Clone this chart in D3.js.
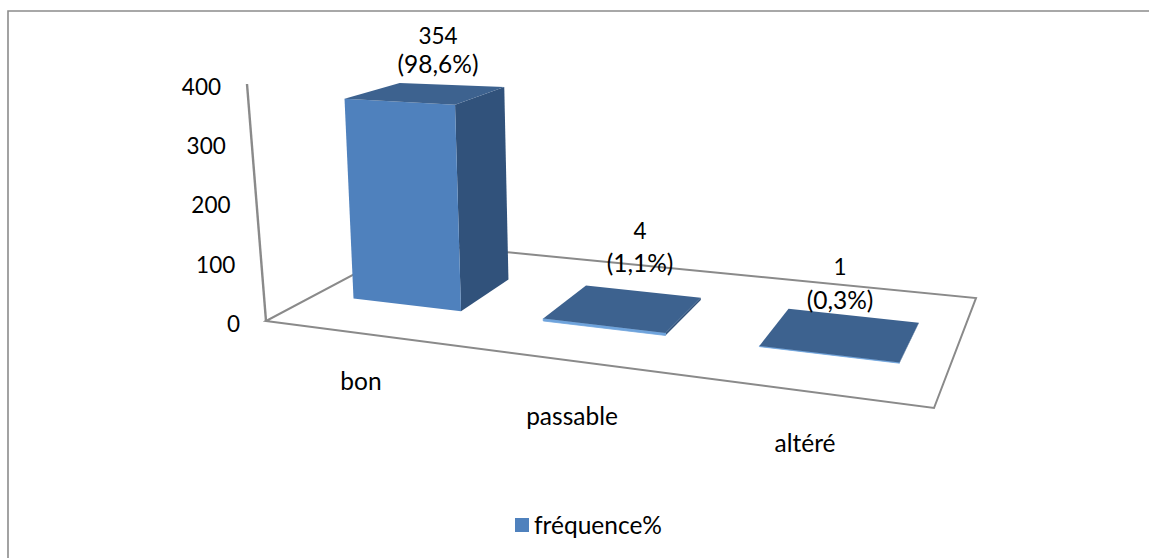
<!DOCTYPE html>
<html><head><meta charset="utf-8">
<script src="https://cdn.jsdelivr.net/npm/d3@7"></script>
<style>html,body{margin:0;padding:0;background:#fff}svg{display:block}text{font-family:Lato,"Open Sans",sans-serif;fill:#000}</style>
</head><body><svg id="c" width="1149" height="558"></svg>
<script>
const categories = ["bon","passable","altéré"];
const values = [354,4,1];
const percents = ["(98,6%)","(1,1%)","(0,3%)"];
const yTicks = [0,100,200,300,400];
const seriesName = "fréquence%";

const W=1149,H=558;
const svg=d3.select("#c");
const fsNum=22.5, fsTxt=24.5;
// Perspective floor: homography from the unit square
const A=[266,321],F=[934,408],R=[976,298],B=[413,243],T=[247,84];
const V=[655,7000];
function homography(p00,p10,p11,p01){
  const dx1=p10[0]-p11[0],dx2=p01[0]-p11[0],sx=p00[0]-p10[0]+p11[0]-p01[0];
  const dy1=p10[1]-p11[1],dy2=p01[1]-p11[1],sy=p00[1]-p10[1]+p11[1]-p01[1];
  const det=dx1*dy2-dx2*dy1;
  const g=(sx*dy2-dx2*sy)/det,h=(dx1*sy-sx*dy1)/det;
  const a=p10[0]-p00[0]+g*p10[0],b=p01[0]-p00[0]+h*p01[0],c=p00[0];
  const d=p10[1]-p00[1]+g*p10[1],e=p01[1]-p00[1]+h*p01[1],f=p00[1];
  return (u,v)=>{const w=g*u+h*v+1;return [(a*u+b*v+c)/w,(d*u+e*v+f)/w];};
}
const floor=homography(A,F,R,B);
const u=d3.scaleBand().domain(categories).range([0,1.005]).paddingInner(.418).paddingOuter(.209);
const v0=.305,v1=.68;
const zScale=d3.scaleLinear().domain([0,400]).range([0,236]);
function proj(uu,vv,val){
  const p=floor(uu,vv);
  const L=V[1]-p[1];
  const h=zScale(val)*(1-.18*vv+.165*uu)/L;
  return [p[0]+(p[0]-V[0])*h,p[1]+(p[1]-V[1])*h];
}
const axisPt=val=>{const t=val/400;return [A[0]+(T[0]-A[0])*t,A[1]+(T[1]-A[1])*t];};
const line=d3.line();
const poly=pts=>line(pts)+"Z";

// chart frame
svg.append("path").attr("d",line([[8,H],[8,11],[W,11]])).attr("fill","none").attr("stroke","#8c8c8c").attr("stroke-width",1.6);

// walls / floor
const axisCol="#8a8a8a";
svg.append("path").attr("d",poly([A,F,R,B])).attr("fill","none").attr("stroke",axisCol).attr("stroke-width",2);
svg.append("path").attr("d",line([axisPt(0),axisPt(400)])).attr("fill","none").attr("stroke",axisCol).attr("stroke-width",2.4);

// bars
const cols={front:"#4f81bd",side:"#31527b",top:"#3d628f",edge:"#6ea3dc"};
const bars=svg.append("g").selectAll("g").data(categories.map((c,i)=>({c,val:values[i]}))).join("g");
bars.each(function(d){
  const g=d3.select(this),x0=u(d.c),x1=x0+u.bandwidth();
  const big=d.val>50;
  g.append("path").attr("d",poly([proj(x1,v0,0),proj(x1,v1,0),proj(x1,v1,d.val),proj(x1,v0,d.val)])).attr("fill",cols.side);
  g.append("path").attr("d",poly([proj(x0,v0,0),proj(x1,v0,0),proj(x1,v0,d.val),proj(x0,v0,d.val)])).attr("fill",big?cols.front:cols.edge)
    .attr("stroke",big?"none":cols.edge).attr("stroke-width",.8);
  g.append("path").attr("d",poly([proj(x0,v0,d.val),proj(x1,v0,d.val),proj(x1,v1,d.val),proj(x0,v1,d.val)])).attr("fill",cols.top);
});

// y tick labels
const yLabel=d3.scaleLinear().domain([0,400]).range([324,87]);
svg.append("g").selectAll("text").data(yTicks).join("text")
  .attr("x",d=>axisPt(d)[0]-26).attr("y",d=>yLabel(d)).attr("dy",".35em")
  .attr("text-anchor","end").attr("font-size",fsNum).text(d=>d);

// category labels
const catPos=[[361,381],[572,416],[805,443]];
svg.append("g").selectAll("text").data(categories).join("text")
  .attr("x",(d,i)=>catPos[i][0]).attr("y",(d,i)=>catPos[i][1]).attr("dy",".35em")
  .attr("text-anchor","middle").attr("font-size",fsTxt).text(d=>d);

// data labels
const labPos=[[438,36,64],[640,231,263],[840,267,300]];
const dl=svg.append("g").selectAll("g").data(values).join("g");
dl.append("text").attr("x",(d,i)=>labPos[i][0]).attr("y",(d,i)=>labPos[i][1]).attr("dy",".35em").attr("text-anchor","middle").attr("font-size",fsNum).text(d=>d);
dl.append("text").attr("x",(d,i)=>labPos[i][0]).attr("y",(d,i)=>labPos[i][2]).attr("dy",".35em").attr("text-anchor","middle").attr("font-size",fsTxt).text((d,i)=>percents[i]);

// legend
svg.append("rect").attr("x",515).attr("y",518).attr("width",14).attr("height",14).attr("fill",cols.front);
svg.append("text").attr("x",534).attr("y",525).attr("dy",".35em").attr("font-size",fsTxt).text(seriesName);
</script></body></html>
